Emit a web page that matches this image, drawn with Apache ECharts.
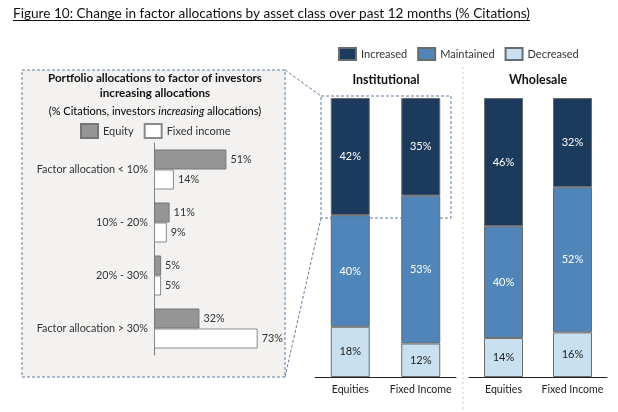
<!DOCTYPE html>
<html><head><meta charset="utf-8">
<script src="https://cdn.jsdelivr.net/npm/echarts@6/dist/echarts.min.js"></script>
<style>html,body{margin:0;padding:0;background:#fff}#c{width:618px;height:412px}</style>
</head><body><div id="c"></div>
<script>
// ---- data ----
const titleText = 'Figure 10: Change in factor allocations by asset class over past 12 months (% Citations)';
const panelTitle1 = 'Portfolio allocations to factor of investors';
const panelTitle2 = 'increasing allocations';
const factorCategories = ['Factor allocation < 10%', '10% - 20%', '20% - 30%', 'Factor allocation > 30%'];
const equityValues = [51, 11, 5, 32];
const fixedIncomeValues = [14, 9, 5, 73];
const assetCategories = ['Equities', 'Fixed Income'];
const institutionalIncreased = [42, 35];
const institutionalMaintained = [40, 53];
const institutionalDecreased = [18, 12];
const wholesaleIncreased = [46, 32];
const wholesaleMaintained = [40, 52];
const wholesaleDecreased = [14, 16];

// ---- style helpers ----
const FONT = 'Lato';
const ctx = document.createElement('canvas').getContext('2d');
function fit(text, weight, target) {
  ctx.font = weight + ' 100px ' + FONT;
  return Math.round(100 * target / ctx.measureText(text).width * 10) / 10;
}
const titleSize = fit(titleText, 'normal', 518);
ctx.font = 'normal ' + titleSize + 'px ' + FONT;
const titleW = ctx.measureText(titleText).width;
const panelSize = fit(panelTitle1, 'bold', 214);
const catSize = fit('Factor allocation < 10%', 'normal', 111);
const legendSize = fit('Increased', 'normal', 46);
const headSize = fit('Institutional', 'bold', 67);
const axisSize = fit('Fixed Income', 'normal', 62);

const C_INC = '#1c3a5c', C_MAI = '#4f85b8', C_DEC = '#c8e0f0';
const DASH = '#5e7c9c';

const chart = echarts.init(document.getElementById('c'), null, {renderer: 'canvas'});

function stackSeries(name, data, color, labelColor, idx) {
  return {
    name: name, type: 'bar', stack: 'g' + idx, xAxisIndex: idx, yAxisIndex: idx,
    data: data, barWidth: 39,
    itemStyle: {color: color, borderColor: '#6b6b6b', borderWidth: 1},
    label: {show: true, position: 'inside', formatter: '{c}%', color: labelColor,
            fontFamily: FONT, fontSize: 11},
    emphasis: {disabled: true}
  };
}

const catAxisLabel = {fontFamily: FONT, fontSize: axisSize, color: '#222', margin: 7, interval: 0};

chart.setOption({
  animation: false,
  backgroundColor: '#ffffff',
  textStyle: {fontFamily: FONT},
  legend: [
    {
      data: ['Increased', 'Maintained', 'Decreased'],
      left: 338, top: 47, padding: 0, itemWidth: 17, itemHeight: 12, itemGap: 10,
      icon: 'rect', selectedMode: false,
      textStyle: {fontFamily: FONT, fontSize: legendSize, color: '#333'}
    },
    {
      data: ['Equity', 'Fixed income'],
      left: 80, top: 123, padding: 0, itemWidth: 17, itemHeight: 14, itemGap: 10,
      icon: 'rect', selectedMode: false,
      textStyle: {fontFamily: FONT, fontSize: legendSize, color: '#333'}
    }
  ],
  grid: [
    {left: 154, top: 143, width: 142, height: 212},
    {left: 315, top: 98, width: 141, height: 279},
    {left: 469, top: 98, width: 138, height: 279}
  ],
  xAxis: [
    {gridIndex: 0, type: 'value', min: 0, max: 100, show: false},
    {gridIndex: 1, type: 'category', data: assetCategories,
     axisLine: {lineStyle: {color: '#222', width: 1}}, axisTick: {show: false},
     axisLabel: catAxisLabel},
    {gridIndex: 2, type: 'category', data: assetCategories,
     axisLine: {lineStyle: {color: '#222', width: 1}}, axisTick: {show: false},
     axisLabel: catAxisLabel}
  ],
  yAxis: [
    {gridIndex: 0, type: 'category', data: factorCategories, inverse: true,
     axisLine: {lineStyle: {color: '#7f7f7f', width: 1}}, axisTick: {show: false},
     axisLabel: {fontFamily: FONT, fontSize: catSize, color: '#333', margin: 6, interval: 0}},
    {gridIndex: 1, type: 'value', min: 0, max: 100, show: false},
    {gridIndex: 2, type: 'value', min: 0, max: 100, show: false}
  ],
  series: [
    {name: 'Equity', type: 'bar', xAxisIndex: 0, yAxisIndex: 0, data: equityValues,
     barWidth: 20, barGap: '0%',
     itemStyle: {color: '#959595', borderColor: '#777777', borderWidth: 1},
     label: {show: true, position: 'right', distance: 4, formatter: '{c}%',
             fontFamily: FONT, fontSize: catSize, color: '#333'},
     emphasis: {disabled: true}},
    {name: 'Fixed income', type: 'bar', xAxisIndex: 0, yAxisIndex: 0, data: fixedIncomeValues,
     barWidth: 20, barGap: '0%',
     itemStyle: {color: '#ffffff', borderColor: '#8a8a8a', borderWidth: 1},
     label: {show: true, position: 'right', distance: 4, formatter: '{c}%',
             fontFamily: FONT, fontSize: catSize, color: '#333'},
     emphasis: {disabled: true}},
    stackSeries('Decreased', institutionalDecreased, C_DEC, '#222', 1),
    stackSeries('Maintained', institutionalMaintained, C_MAI, '#fff', 1),
    stackSeries('Increased', institutionalIncreased, C_INC, '#fff', 1),
    stackSeries('Decreased', wholesaleDecreased, C_DEC, '#222', 2),
    stackSeries('Maintained', wholesaleMaintained, C_MAI, '#fff', 2),
    stackSeries('Increased', wholesaleIncreased, C_INC, '#fff', 2)
  ],
  graphic: [
    {type: 'rect', z: -10, shape: {x: 22, y: 70, width: 263, height: 307},
     style: {fill: '#f3f2f1', stroke: DASH, lineWidth: 1, lineDash: [3, 2]}},
    {type: 'rect', z: -10, shape: {x: 321, y: 96, width: 130, height: 122},
     style: {fill: null, stroke: DASH, lineWidth: 1, lineDash: [3, 2]}},
    {type: 'line', z: -10, shape: {x1: 285, y1: 70, x2: 321, y2: 96},
     style: {stroke: DASH, lineWidth: 1, lineDash: [3, 2]}},
    {type: 'line', z: -10, shape: {x1: 285, y1: 377, x2: 321, y2: 218},
     style: {stroke: DASH, lineWidth: 1, lineDash: [3, 2]}},
    {type: 'line', z: -10, shape: {x1: 463, y1: 67, x2: 463, y2: 412},
     style: {stroke: '#dcdcd0', lineWidth: 1.5, lineDash: [2, 3]}},
    {type: 'text', left: 13, top: 7,
     style: {text: titleText, font: 'normal ' + titleSize + 'px ' + FONT, fill: '#111'}},
    {type: 'line', shape: {x1: 13, y1: 20.5, x2: 13 + titleW, y2: 20.5},
     style: {stroke: '#111', lineWidth: 1}},
    {type: 'text', x: 155, y: 78,
     style: {text: panelTitle1, font: 'bold ' + panelSize + 'px ' + FONT, fill: '#111',
             textAlign: 'center', textVerticalAlign: 'middle'}},
    {type: 'text', x: 155, y: 93,
     style: {text: panelTitle2, font: 'bold ' + panelSize + 'px ' + FONT, fill: '#111',
             textAlign: 'center', textVerticalAlign: 'middle'}},
    {type: 'text', x: 155, y: 111,
     style: {text: '{a|(% Citations, investors }{b|increasing}{a| allocations)}',
             textAlign: 'center', textVerticalAlign: 'middle',
             rich: {a: {fontFamily: FONT, fontSize: legendSize, color: '#222'},
                    b: {fontFamily: FONT, fontSize: legendSize, fontStyle: 'italic', color: '#222'}}}},
    {type: 'text', x: 386, y: 80,
     style: {text: 'Institutional', font: 'bold ' + headSize + 'px ' + FONT, fill: '#111',
             textAlign: 'center', textVerticalAlign: 'middle'}},
    {type: 'text', x: 538, y: 80,
     style: {text: 'Wholesale', font: 'bold ' + headSize + 'px ' + FONT, fill: '#111',
             textAlign: 'center', textVerticalAlign: 'middle'}}
  ]
});
</script></body></html>
